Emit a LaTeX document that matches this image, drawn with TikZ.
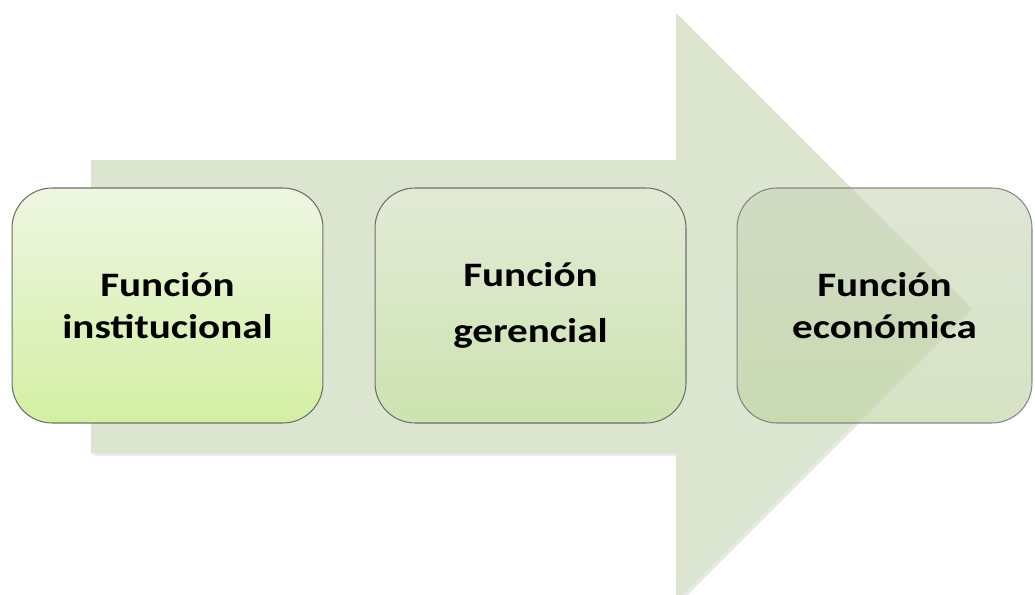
\documentclass[tikz,border=0pt]{standalone}
\usepackage{fontspec}
\usepackage{tikz}
\usetikzlibrary{shadows}
\usepackage{xcolor}
\newfontfamily\boxfont[FakeStretch=1.2]{Carlito}
\definecolor{arrowgreen}{HTML}{DCE5D0}
\definecolor{boxline}{HTML}{6E6E6E}
\definecolor{insttop}{HTML}{EEF6E2}
\definecolor{instbot}{HTML}{D3EFA3}
\definecolor{gertop}{HTML}{E2EAD6}
\definecolor{gerbot}{HTML}{CDE3B0}
\definecolor{ecotop}{HTML}{CCD6BE}
\definecolor{ecobot}{HTML}{BFD4A1}
\newcommand{\boxtext}{\boxfont\bfseries\fontsize{19.5}{24}\selectfont}

\begin{document}
\begin{tikzpicture}[x=0.02cm,y=-0.02cm]
\tikzstyle{every node}=[rounded corners=0.8cm,draw=boxline,line width=0.6pt,minimum height=4.7cm,align=center,text=black,font=\boxtext]
\useasboundingbox[fill=white] (0,0) rectangle (1035,595);
\clip (0,0) rectangle (1035,595);
\path[fill=arrowgreen,drop shadow={opacity=0.18,shadow xshift=1.5pt,shadow yshift=-1.5pt}]
  (91,160) -- (676,160) -- (676,13) -- (970,307) -- (676,601) -- (676,453) -- (91,453) -- cycle;
\node[minimum width=6.22cm,top color=insttop,bottom color=instbot] (a) at (167.5,305.5) {Función\\institucional};
\node[minimum width=6.22cm,top color=gertop,bottom color=gerbot,font=\boxtext\fontsize{19.5}{32}\selectfont] (b) at (530.5,305.5) {Función\\gerencial};
\node[minimum width=5.9cm,top color=ecotop,bottom color=ecobot,fill opacity=0.63,draw opacity=0.8,text opacity=1] (c) at (884.5,305.5) {Función\\económica};
\end{tikzpicture}
\end{document}
